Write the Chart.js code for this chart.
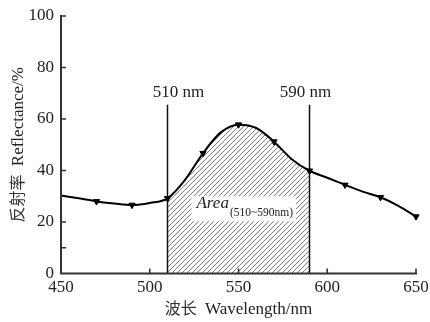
<!DOCTYPE html>
<html><head><meta charset="utf-8">
<script src="https://cdn.jsdelivr.net/npm/chart.js@4/dist/chart.umd.min.js"></script>
<style>html,body{margin:0;padding:0;background:#fff}#wrap{width:430px;height:322px;position:relative}</style>
</head><body><div id="wrap"><canvas id="c" width="430" height="322"></canvas></div>
<script>
// ---- data ----
const wavelengths = [450,460,470,480,490,500,510,520,530,540,550,560,570,580,590,600,610,620,630,640,650];
const reflectance = [30.3,29.2,28.0,27.2,26.6,27.4,29.2,36.5,46.7,54.8,57.8,56.5,51.2,44.4,39.9,37.2,34.4,31.8,29.6,26.3,22.1];
const markerWavelengths = [470,490,510,530,550,570,590,610,630,650];
const bandEdges = [510, 590];
const bandLineTop = 65.5;
const bandLabels = ['510 nm', '590 nm'];
const xTickValues = [450,500,550,600,650];
const yTickValues = [0,20,40,60,80,100];
const yMinorTicks = [10];
const areaMain = 'Area';
const areaSub = '(510~590nm)';
const xTitleCn = '波长', xTitleEn = 'Wavelength/nm';
const yTitleCn = '反射率', yTitleEn = 'Reflectance/%';

const SERIF = "'Liberation Serif','Times New Roman',serif";
const CJK = "'Noto Sans CJK SC','Noto Sans CJK JP',sans-serif";

function hatchPattern() {
  const s = 5, c = document.createElement('canvas');
  c.width = s; c.height = s;
  const g = c.getContext('2d');
  g.strokeStyle = '#6e6e6e'; g.lineWidth = 0.9;
  g.beginPath();
  g.moveTo(-1, s + 1); g.lineTo(s + 1, -1);
  g.moveTo(-1, 1); g.lineTo(1, -1);
  g.moveTo(s - 1, s + 1); g.lineTo(s + 1, s - 1);
  g.stroke();
  return g.createPattern(c, 'repeat');
}

const curvePts = wavelengths.map((w, i) => ({x: w, y: reflectance[i]}));
const ctx = document.getElementById('c').getContext('2d');

const bandPlugin = {
  id: 'band',
  beforeDatasetsDraw(chart) {
    const {ctx, chartArea, scales: {x}} = chart;
    const x0 = x.getPixelForValue(bandEdges[0]), x1 = x.getPixelForValue(bandEdges[1]);
    ctx.save();
    ctx.beginPath();
    ctx.rect(x0, chartArea.top, x1 - x0, chartArea.bottom - chartArea.top);
    ctx.clip();
  },
  afterDatasetDraw(chart, args) {
    if (args.index === 1) chart.ctx.restore();
  },
  afterDraw(chart) {
    const {ctx, chartArea: ca, scales: {x, y}} = chart;
    ctx.save();
    // axis lines
    ctx.strokeStyle = '#333'; ctx.lineWidth = 2;
    ctx.beginPath();
    ctx.moveTo(ca.left, ca.top - 1); ctx.lineTo(ca.left, ca.bottom); ctx.lineTo(ca.right + 1, ca.bottom);
    ctx.stroke();
    // inward ticks
    ctx.lineWidth = 1.6;
    ctx.beginPath();
    xTickValues.forEach(v => { if (v === x.min) return; const px = x.getPixelForValue(v); ctx.moveTo(px, ca.bottom); ctx.lineTo(px, ca.bottom - 5); });
    yTickValues.concat(yMinorTicks).forEach(v => { if (v === y.min) return; const py = y.getPixelForValue(v); ctx.moveTo(ca.left, py); ctx.lineTo(ca.left + 5, py); });
    ctx.stroke();
    // band labels
    ctx.fillStyle = '#222';
    ctx.font = '17px ' + SERIF;
    ctx.textBaseline = 'alphabetic';
    ctx.textAlign = 'center';
    const offs = [11, -4];
    bandEdges.forEach((b, i) => {
      ctx.fillText(bandLabels[i], x.getPixelForValue(b) + offs[i], y.getPixelForValue(bandLineTop) - 8);
    });
    // area label with white box
    const cx = x.getPixelForValue(553.5), cy = y.getPixelForValue(25.3);
    ctx.font = 'italic 17px ' + SERIF;
    const w1 = ctx.measureText(areaMain).width;
    ctx.font = '11.5px ' + SERIF;
    const w2 = ctx.measureText(areaSub).width;
    const tw = w1 + 1 + w2;
    const lx = cx - tw / 2;
    ctx.fillStyle = '#fff';
    ctx.fillRect(lx - 5, cy - 12, tw + 8, 25);
    ctx.fillStyle = '#222';
    ctx.textAlign = 'left';
    ctx.font = 'italic 17px ' + SERIF;
    ctx.fillText(areaMain, lx, cy + 0);
    ctx.font = '11.5px ' + SERIF;
    ctx.fillText(areaSub, lx + w1 + 1, cy + 8);
    // x title
    ctx.font = '16px ' + CJK;
    const cw = ctx.measureText(xTitleCn).width;
    ctx.font = '17px ' + SERIF;
    const ew = ctx.measureText(' ' + xTitleEn).width;
    const gap = 4;
    let sx = (ca.left + ca.right) / 2 - (cw + gap + ew) / 2;
    ctx.fillStyle = '#333';
    ctx.font = '16px ' + CJK;
    ctx.fillText(xTitleCn, sx, 314);
    ctx.fillStyle = '#222';
    ctx.font = '17px ' + SERIF;
    ctx.fillText(' ' + xTitleEn, sx + cw + gap, 314);
    // y title
    ctx.translate(23, (ca.top + ca.bottom) / 2);
    ctx.rotate(-Math.PI / 2);
    ctx.font = '16px ' + CJK;
    const cw2 = ctx.measureText(yTitleCn).width;
    ctx.font = '17px ' + SERIF;
    const ew2 = ctx.measureText(' ' + yTitleEn).width;
    sx = -(cw2 + gap + ew2) / 2;
    ctx.fillStyle = '#333';
    ctx.font = '16px ' + CJK;
    ctx.fillText(yTitleCn, sx, 0);
    ctx.fillStyle = '#222';
    ctx.font = '17px ' + SERIF;
    ctx.fillText(' ' + yTitleEn, sx + cw2 + gap, 0);
    ctx.restore();
  }
};

new Chart(ctx, {
  type: 'line',
  data: {
    datasets: [
      {
        label: 'Reflectance',
        data: curvePts,
        borderColor: '#000', borderWidth: 2,
        cubicInterpolationMode: 'monotone',
        pointStyle: 'triangle', rotation: 180,
        pointRadius: wavelengths.map(w => markerWavelengths.includes(w) ? 3.6 : 0),
        pointBackgroundColor: '#000', pointBorderColor: '#000', pointBorderWidth: 1,
        fill: false, order: 1, clip: 8
      },
      {
        label: 'Area',
        data: curvePts,
        borderWidth: 0, borderColor: 'rgba(0,0,0,0)',
        cubicInterpolationMode: 'monotone',
        pointRadius: 0,
        fill: 'origin', backgroundColor: hatchPattern(), order: 10
      },
      {
        label: 'edge1',
        data: [{x: bandEdges[0], y: 0}, {x: bandEdges[0], y: bandLineTop}],
        borderColor: '#111', borderWidth: 1.5, pointRadius: 0, fill: false, order: 5
      },
      {
        label: 'edge2',
        data: [{x: bandEdges[1], y: 0}, {x: bandEdges[1], y: bandLineTop}],
        borderColor: '#111', borderWidth: 1.5, pointRadius: 0, fill: false, order: 5
      }
    ]
  },
  options: {
    responsive: false, animation: false, devicePixelRatio: 1,
    layout: {padding: {top: 16, right: 14, left: 0, bottom: 0}},
    plugins: {legend: {display: false}, tooltip: {enabled: false}},
    scales: {
      x: {
        type: 'linear', min: 450, max: 650,
        afterBuildTicks: s => { s.ticks = xTickValues.map(v => ({value: v})); },
        afterFit: s => { s.height = 48.5; s.paddingLeft = 0; s.paddingRight = 0; },
        grid: {display: false, drawTicks: false},
        border: {display: false},
        ticks: {color: '#222', font: {family: SERIF, size: 17}, padding: 4, maxRotation: 0, autoSkip: false}
      },
      y: {
        type: 'linear', min: 0, max: 100,
        afterBuildTicks: s => { s.ticks = yTickValues.map(v => ({value: v})); },
        afterFit: s => { s.width = 61; s.paddingTop = 0; s.paddingBottom = 0; },
        grid: {display: false, drawTicks: false},
        border: {display: false},
        ticks: {color: '#222', font: {family: SERIF, size: 17}, padding: 7}
      }
    }
  },
  plugins: [bandPlugin]
});
</script></body></html>
